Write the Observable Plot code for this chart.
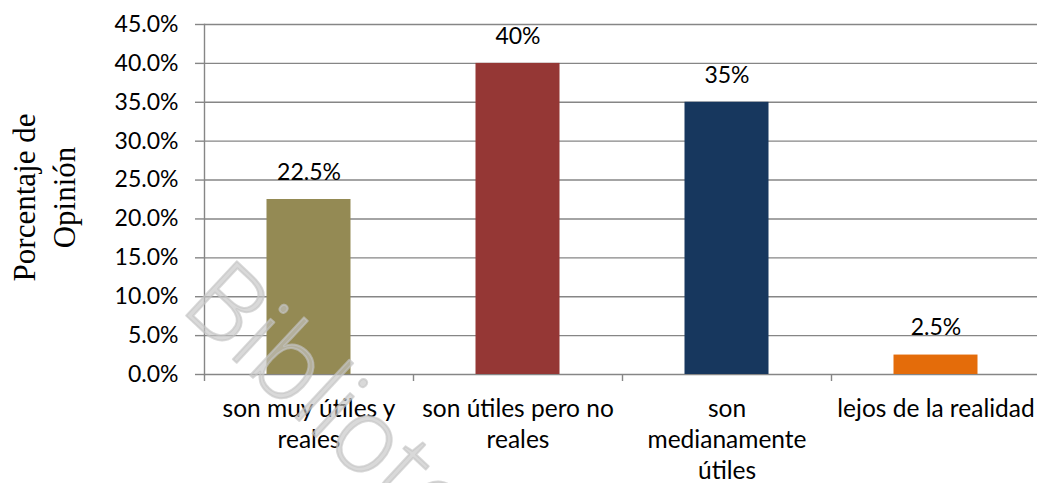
<!DOCTYPE html>
<html>
<head>
<meta charset="utf-8">
<script src="https://cdn.jsdelivr.net/npm/d3@7"></script>
<script src="https://cdn.jsdelivr.net/npm/@observablehq/plot@0.6"></script>
<style>
  html, body { margin: 0; padding: 0; background: #fff; }
  #chart svg { display: block; }
</style>
</head>
<body>
<div id="chart"></div>
<script>
// Data
const categories = ["son muy útiles y reales", "son útiles pero no reales", "son medianamente útiles", "lejos de la realidad"];
const tickLabels = ["son muy útiles y\nreales", "son útiles pero no\nreales", "son\nmedianamente\nútiles", "lejos de la realidad"];
const values = [0.225, 0.40, 0.35, 0.025];
const valueLabels = ["22.5%", "40%", "35%", "2.5%"];
const colors = ["#948A54", "#953735", "#17375E", "#E46C0A"];
const yTicks = [0, 0.05, 0.10, 0.15, 0.20, 0.25, 0.30, 0.35, 0.40, 0.45];
const yTitle = "Porcentaje de\nOpinión";
const watermark = "Biblioteca";

const data = categories.map((c, i) => ({category: c, value: values[i], label: valueLabels[i]}));
const labelOf = new Map(categories.map((c, i) => [c, tickLabels[i]]));

const W = 1037, H = 483;
const left = 204, rightEdge = 1040;
const bw = (rightEdge - left) / categories.length;
const gray = "#868686";
const sans = "Lato, 'Open Sans', sans-serif";

const chart = Plot.plot({
  width: W,
  height: H,
  marginLeft: left,
  marginRight: 0,
  marginTop: 24,
  marginBottom: 109,
  style: {fontFamily: sans, background: "#fff", overflow: "visible"},
  x: {domain: categories, range: [left, rightEdge], padding: 0},
  y: {domain: [0, 0.45]},
  color: {type: "ordinal", domain: categories, range: colors},
  marks: [
    Plot.gridY(yTicks, {stroke: gray, strokeOpacity: 1, strokeWidth: 1.4}),
    Plot.barY(data, {x: "category", y: "value", fill: "category", insetLeft: 62.5, insetRight: 62.5}),
    Plot.frame({anchor: "left", stroke: gray, strokeWidth: 1.4}),
    Plot.axisY({ticks: yTicks, tickFormat: d3.format(".1%"), tickSize: 9, tickPadding: 17,
      stroke: gray, strokeWidth: 1.4, fontSize: 23, fill: "#000", label: null}),
    Plot.axisX({ticks: categories, tickSize: 7, tickFormat: () => "", dx: -bw / 2,
      stroke: gray, strokeWidth: 1.4, label: null}),
    Plot.axisX({ticks: categories, tickSize: 0, tickPadding: 21, tickFormat: d => labelOf.get(d),
      fontSize: 24.5, lineHeight: 1.26, fill: "#000", label: null}),
    Plot.text(data, {x: "category", y: "value", text: "label", dy: -27, fontSize: 23, fill: "#000", lineAnchor: "middle"}),
    Plot.text([yTitle], {frameAnchor: "left", textAnchor: "middle", lineAnchor: "middle", rotate: -90, dx: -162, dy: -2, fontSize: 31,
      fontFamily: "'Liberation Serif', 'Times New Roman', serif", lineHeight: 1.27, fill: "#000"}),
    Plot.text([watermark], {frameAnchor: "top-left", textAnchor: "start", lineAnchor: "bottom", rotate: 43,
      dx: -26, dy: 284, fontSize: 104, fontFamily: "'Open Sans', sans-serif", fontWeight: 300,
      fill: "#c4c4c4", fillOpacity: 0.65, stroke: "#c4c4c4", strokeOpacity: 0.65, strokeWidth: 2})
  ]
});
document.getElementById("chart").appendChild(chart);
</script>
</body>
</html>
